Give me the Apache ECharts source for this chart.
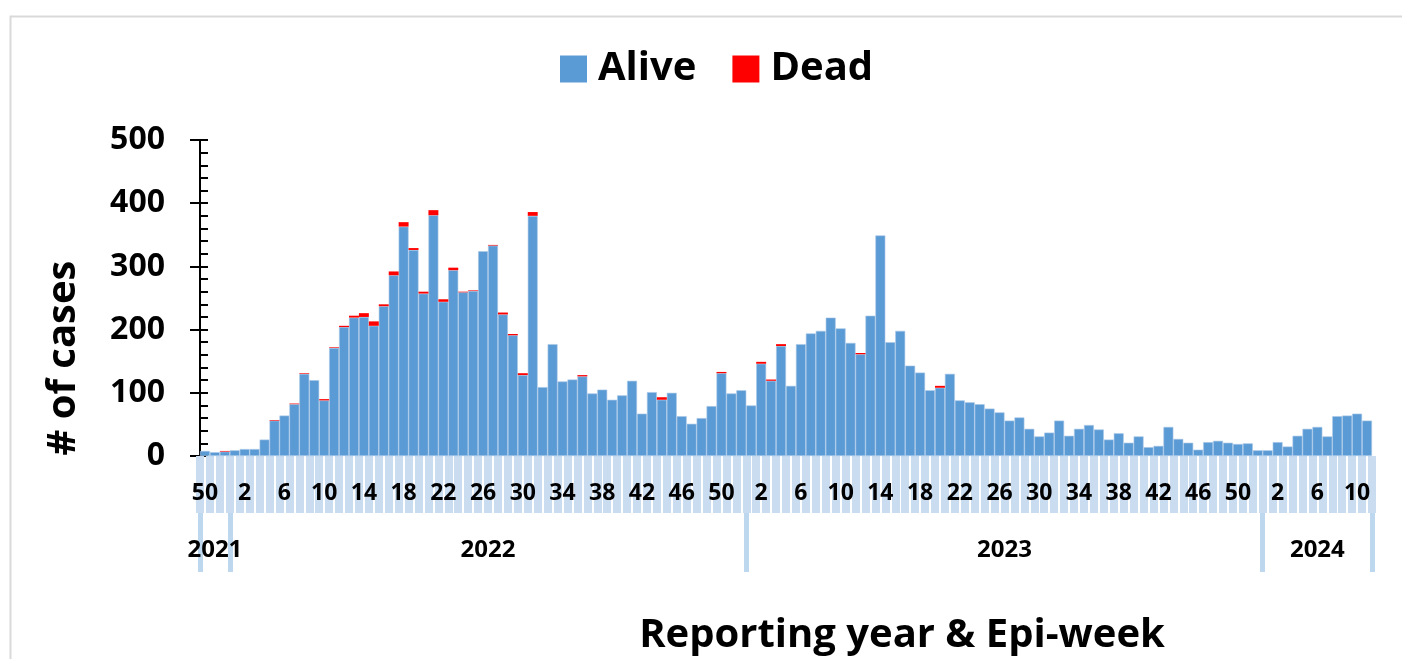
<!DOCTYPE html>
<html>
<head>
<meta charset="utf-8">
<script src="https://cdn.jsdelivr.net/npm/echarts@6/dist/echarts.min.js"></script>
<style>
html,body{margin:0;padding:0;background:#fff;}
#chart{width:1402px;height:659px;}
</style>
</head>
<body>
<div id="chart"></div>
<script>
// ---- data ----
const yearNames = ['2021', '2022', '2023', '2024'];
const weeks2021 = [50, 51, 52];
const weeks2022 = [1,2,3,4,5,6,7,8,9,10,11,12,13,14,15,16,17,18,19,20,21,22,23,24,25,26,27,28,29,30,31,32,33,34,35,36,37,38,39,40,41,42,43,44,45,46,47,48,49,50,51,52];
const weeks2023 = [1,2,3,4,5,6,7,8,9,10,11,12,13,14,15,16,17,18,19,20,21,22,23,24,25,26,27,28,29,30,31,32,33,34,35,36,37,38,39,40,41,42,43,44,45,46,47,48,49,50,51,52];
const weeks2024 = [1,2,3,4,5,6,7,8,9,10,11];

const alive = [
  8, 6, 7,
  9, 11, 11, 26, 56, 64, 82, 130, 120, 88, 171, 204, 219, 220, 206, 237, 286, 363, 326, 257, 381, 244, 294, 259,
  261, 324, 333, 224, 191, 128, 380, 109, 177, 118, 121, 126, 99, 105, 89, 96, 119, 67, 101, 89, 100, 63, 51, 60,
  79, 131, 99, 104,
  80, 146, 119, 174, 111, 177, 194, 198, 219, 202, 179, 161, 222, 349, 180, 198, 143, 132, 104, 108, 130, 88, 85, 82,
  75, 69, 56, 61, 43, 31, 37, 56, 32, 43, 49, 42, 26, 36, 21, 31, 14, 16, 46, 27, 21, 10, 22, 24,
  21, 19, 20, 9,
  9, 22, 15, 32, 43, 46, 31, 63, 64, 67, 56
];
const dead = [
  0, 0, 1,
  0, 0, 0, 0, 1, 0, 1, 1, 0, 2, 1, 2, 3, 6, 7, 3, 6, 7, 3, 3, 8, 4, 4, 1,
  1, 0, 1, 3, 2, 3, 6, 0, 0, 0, 0, 2, 0, 0, 0, 0, 0, 0, 0, 4, 0, 0, 0, 0,
  0, 2, 0, 0,
  0, 3, 2, 3, 0, 0, 0, 0, 0, 0, 0, 2, 0, 0, 0, 0, 0, 0, 0, 3, 0, 0, 0, 0,
  0, 0, 0, 0, 0, 0, 0, 0, 0, 0, 0, 0, 0, 0, 0, 0, 0, 0, 0, 0, 0, 0, 0, 0,
  0, 0, 0, 0,
  0, 0, 0, 0, 0, 0, 0, 0, 0, 0, 0
];
const yTicks = [0, 100, 200, 300, 400, 500];

// ---- build categories ----
const yearWeeks = [weeks2021, weeks2022, weeks2023, weeks2024];
const categories = [];
const weekOf = [];
yearWeeks.forEach((ws, yi) => ws.forEach(w => { categories.push(yearNames[yi] + '-W' + w); weekOf.push(w); }));
const nCat = categories.length;
const yearStarts = [];
const yearCenters = [];
let acc = 0;
yearWeeks.forEach(ws => { yearStarts.push(acc); yearCenters.push(acc + ws.length / 2); acc += ws.length; });

const FONT = 'Open Sans';
const chart = echarts.init(document.getElementById('chart'));
chart.setOption({
  animation: false,
  backgroundColor: '#fff',
  textStyle: { fontFamily: FONT },
  graphic: [{
    type: 'rect', left: 8, top: 14, z: -10,
    shape: { width: 1400, height: 700 },
    style: { fill: 'none', stroke: '#d9d9d9', lineWidth: 2 }
  }],
  legend: {
    left: 555, top: 44,
    itemWidth: 27, itemHeight: 27, itemGap: 36,
    icon: 'rect',
    itemStyle: { borderWidth: 0 },
    textStyle: { fontFamily: FONT, fontWeight: 'bold', fontSize: 40, color: '#000', padding: [0, 0, 0, 6] },
    data: ['Alive', 'Dead']
  },
  grid: { left: 200, right: 30, top: 140, bottom: 203, containLabel: false },
  xAxis: [{
    type: 'category',
    data: categories,
    boundaryGap: true,
    axisLine: { show: false },
    axisTick: { show: true, interval: 0, length: 57, lineStyle: { color: '#c9dcf0', width: 8 } },
    axisLabel: {
      interval: (i) => i % 4 === 0,
      formatter: (v, i) => String(weekOf[i]),
      fontFamily: FONT, fontWeight: 'bold', fontSize: 23, color: '#000', margin: 26
    },
    splitLine: { show: false }
  }, {
    type: 'value',
    min: 0, max: nCat,
    position: 'bottom',
    offset: 57,
    axisLine: { show: false },
    splitLine: { show: false },
    axisTick: { show: false },
    axisLabel: {
      customValues: yearCenters,
      formatter: (v) => { const k = yearCenters.indexOf(v); return k >= 0 ? yearNames[k] : ''; },
      fontFamily: FONT, fontWeight: 'bold', fontSize: 24, color: '#000', margin: 25
    },
    name: 'Reporting year & Epi-week',
    nameLocation: 'middle',
    nameGap: 103,
    nameTextStyle: { fontFamily: FONT, fontWeight: 'bold', fontSize: 40, color: '#000', padding: [0, 0, 0, 232] }
  }, {
    type: 'category',
    data: categories,
    boundaryGap: true,
    position: 'bottom',
    offset: 57,
    axisLine: { show: false },
    splitLine: { show: false },
    axisLabel: { show: false },
    axisTick: {
      show: true,
      interval: (i) => yearStarts.indexOf(i) >= 0,
      length: 59,
      lineStyle: { color: '#bdd7ee', width: 5 }
    }
  }],
  yAxis: [{
    type: 'value',
    min: yTicks[0], max: yTicks[yTicks.length - 1], interval: 100,
    axisLine: { show: true, lineStyle: { color: '#000', width: 2 } },
    axisTick: { show: true, inside: true, length: 8, lineStyle: { color: '#000', width: 2 } },
    minorTick: { show: true, splitNumber: 5, length: 8, lineStyle: { color: '#000', width: 2 } },
    axisLabel: { fontFamily: FONT, fontWeight: 'bold', fontSize: 32, color: '#000', margin: 35 },
    splitLine: { show: false },
    name: '# of cases',
    nameLocation: 'middle',
    nameRotate: 90,
    nameGap: 116,
    nameTextStyle: { fontFamily: FONT, fontWeight: 'bold', fontSize: 40, color: '#000', padding: [0, 120, 0, 0] }
  }, {
    type: 'value',
    min: yTicks[0], max: yTicks[yTicks.length - 1], interval: 100,
    position: 'left',
    axisLine: { show: false },
    axisTick: { show: true, inside: false, length: 10, lineStyle: { color: '#000', width: 2 } },
    axisLabel: { show: false },
    splitLine: { show: false }
  }],
  series: [{
    name: 'Alive', type: 'bar', stack: 'total',
    data: alive,
    barCategoryGap: '0%',
    itemStyle: { color: '#5b9bd5', borderColor: '#a9c8e8', borderWidth: 0.6 }
  }, {
    name: 'Dead', type: 'bar', stack: 'total',
    data: dead,
    barCategoryGap: '0%',
    itemStyle: { color: '#ff0000' }
  }]
});
</script>
</body>
</html>
